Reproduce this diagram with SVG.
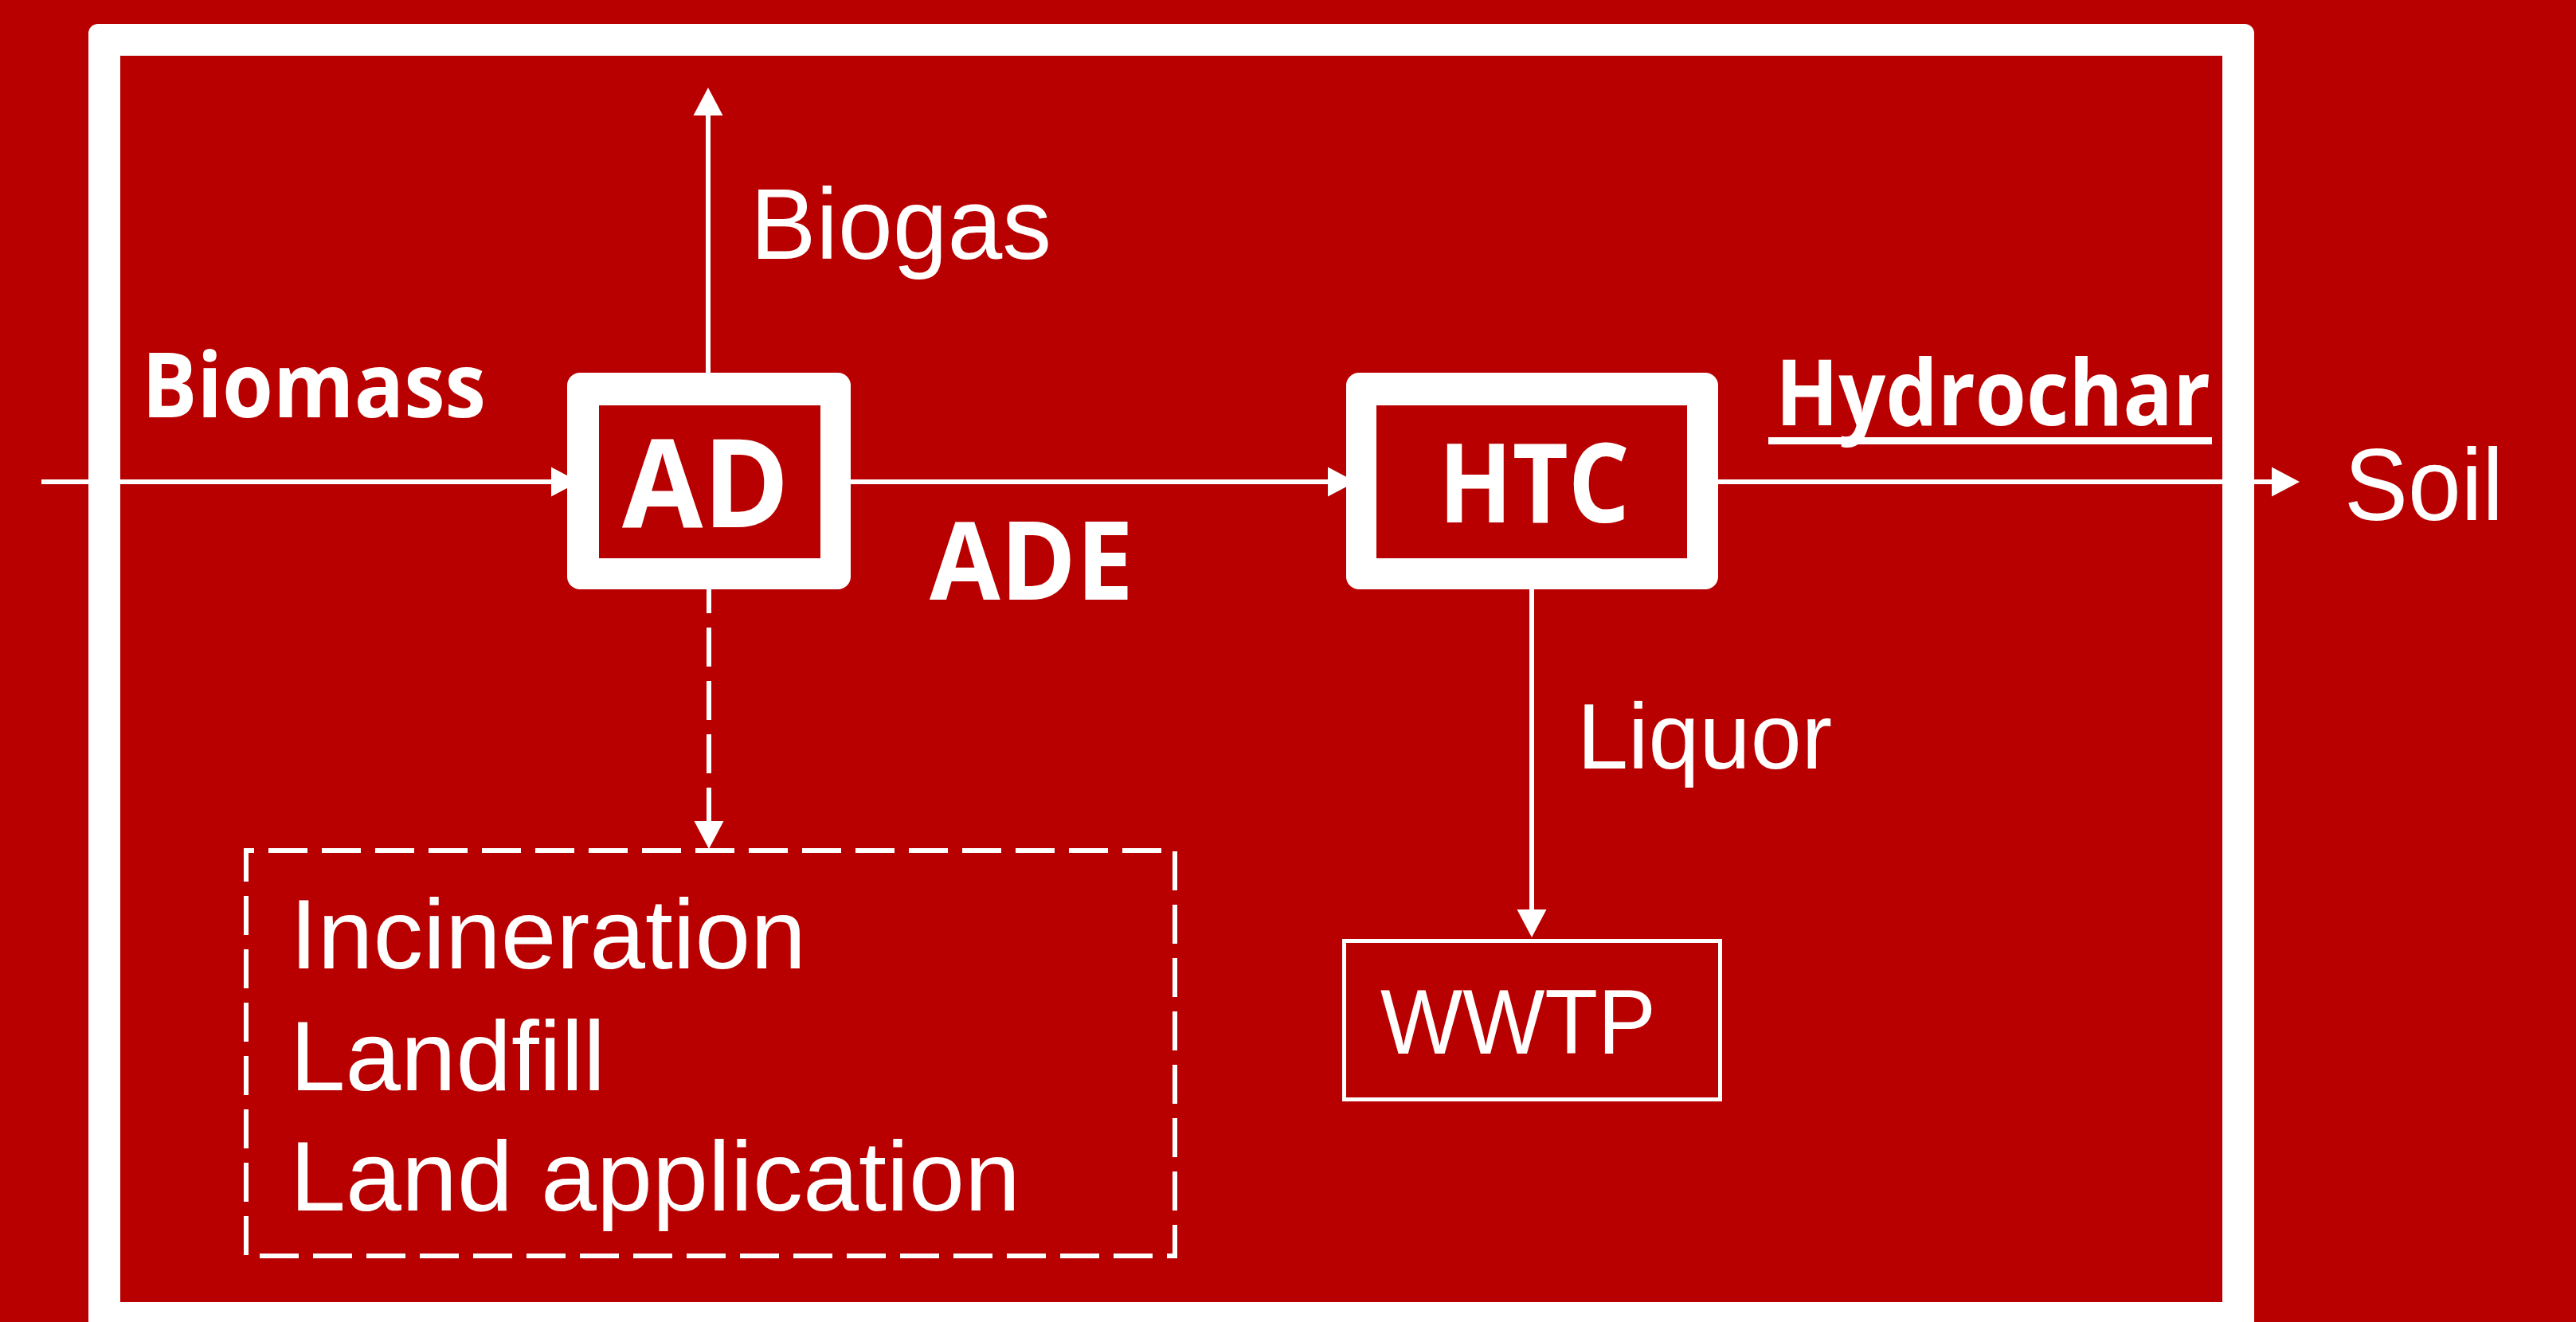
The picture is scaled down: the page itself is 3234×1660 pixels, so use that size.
<svg xmlns="http://www.w3.org/2000/svg" width="3234" height="1660" viewBox="0 0 3234 1660">
  <defs>
    <marker id="arrow" markerUnits="userSpaceOnUse" markerWidth="36" markerHeight="38" refX="0" refY="18.5" orient="auto" overflow="visible">
      <path d="M0,0 L35,18.5 L0,37 Z" fill="#FFFFFF"/>
    </marker>
    <style>
      .bg { fill: #B80000; }
      .white { fill: #FFFFFF; }
      .line { stroke: #FFFFFF; stroke-width: 6; fill: none; }
      .dash { stroke: #FFFFFF; stroke-width: 6; fill: none; stroke-dasharray: 49 18; }
      .bold { font-family: "Open Sans", "Liberation Sans", sans-serif; font-weight: bold; fill: #FFFFFF; }
      .reg { font-family: "Liberation Sans", Arial, sans-serif; fill: #FFFFFF; }
    </style>
  </defs>

  <rect class="bg" x="0" y="0" width="3234" height="1660"/>

  <g id="frame">
    <rect class="white" x="111" y="30" width="2719" height="1700" rx="12"/>
    <rect class="bg" x="151" y="70" width="2639" height="1565"/>
  </g>

  <g id="connectors">
    <line class="line" x1="52" y1="605" x2="692" y2="605" marker-end="url(#arrow)"/>
    <line class="line" x1="1068" y1="605" x2="1667" y2="605" marker-end="url(#arrow)"/>
    <line class="line" x1="2157" y1="605" x2="2852" y2="605" marker-end="url(#arrow)"/>
    <line class="line" x1="889" y1="468" x2="889" y2="145" marker-end="url(#arrow)"/>
    <line class="dash" x1="890" y1="740" x2="890" y2="1031" stroke-dashoffset="19" marker-end="url(#arrow)"/>
    <line class="line" x1="1923" y1="740" x2="1923" y2="1142" marker-end="url(#arrow)"/>
  </g>

  <g id="label-biomass">
    <text class="bold" x="178" y="524" font-size="113" textLength="432" lengthAdjust="spacingAndGlyphs">Biomass</text>
  </g>
  <g id="label-biogas">
    <text class="reg" x="942" y="325" font-size="127" textLength="378" lengthAdjust="spacingAndGlyphs">Biogas</text>
  </g>

  <g id="node-ad">
    <rect class="white" x="712" y="468" width="356" height="272" rx="16"/>
    <rect class="bg" x="752" y="509" width="278" height="192"/>
    <text class="bold" x="781" y="662" font-size="155" textLength="210" lengthAdjust="spacingAndGlyphs">AD</text>
  </g>

  <g id="label-ade">
    <text class="bold" x="1167" y="753" font-size="136" textLength="256" lengthAdjust="spacingAndGlyphs">ADE</text>
  </g>

  <g id="node-htc">
    <rect class="white" x="1690" y="468" width="467" height="272" rx="16"/>
    <rect class="bg" x="1728" y="509" width="390" height="192"/>
    <text class="bold" x="1806" y="656" font-size="139" textLength="240" lengthAdjust="spacingAndGlyphs">HTC</text>
  </g>

  <g id="label-hydrochar">
    <text class="bold" x="2229" y="534" font-size="115" textLength="546" lengthAdjust="spacingAndGlyphs">Hydrochar</text>
    <rect class="white" x="2220" y="549" width="557" height="9"/>
  </g>

  <g id="label-soil">
    <text class="reg" x="2943" y="653" font-size="128" textLength="200" lengthAdjust="spacingAndGlyphs">Soil</text>
  </g>

  <g id="label-liquor">
    <text class="reg" x="1980" y="965" font-size="117" textLength="320" lengthAdjust="spacingAndGlyphs">Liquor</text>
  </g>

  <g id="node-wwtp">
    <rect x="1687.5" y="1181.5" width="472" height="199" fill="none" stroke="#FFFFFF" stroke-width="5"/>
    <text class="reg" x="1733" y="1323" font-size="115" textLength="346" lengthAdjust="spacingAndGlyphs">WWTP</text>
  </g>

  <g id="node-disposal">
    <path class="dash" d="M309,1068 H1475 V1577 H309 Z" stroke-dashoffset="39"/>
    <text class="reg" x="364" y="1216" font-size="125" textLength="648" lengthAdjust="spacingAndGlyphs">Incineration</text>
    <text class="reg" x="364" y="1369" font-size="125" textLength="396" lengthAdjust="spacingAndGlyphs">Landfill</text>
    <text class="reg" x="364" y="1520" font-size="125" textLength="917" lengthAdjust="spacingAndGlyphs">Land application</text>
  </g>
</svg>
